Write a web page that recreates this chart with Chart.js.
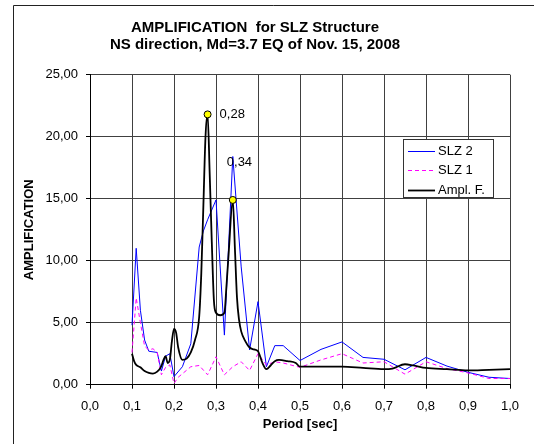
<!DOCTYPE html>
<html>
<head>
<meta charset="utf-8">
<title>Amplification SLZ</title>
<script src="https://cdn.jsdelivr.net/npm/chart.js@4"></script>
<style>
  html, body { margin: 0; padding: 0; background: #fff; }
</style>
</head>
<body>
<canvas id="ampChart" width="534" height="444"></canvas>
<script>
// SLZ 2 (linea blu)
const periodSLZ2 = [0.10, 0.11, 0.12, 0.13, 0.14, 0.16, 0.17, 0.18, 0.19, 0.20, 0.22, 0.24, 0.26, 0.27, 0.28, 0.30, 0.32, 0.34, 0.36, 0.38, 0.40, 0.42, 0.44, 0.46, 0.50, 0.55, 0.60, 0.65, 0.70, 0.75, 0.80, 0.85, 0.90, 0.95, 1.00];
const slz2 = [4.8, 11.0, 6.0, 3.6, 2.7, 2.6, 1.1, 2.3, 2.5, 0.65, 1.45, 3.3, 11.1, 12.4, 13.3, 14.9, 4.0, 18.4, 9.5, 2.8, 6.7, 1.45, 3.15, 3.15, 1.95, 2.85, 3.45, 2.2, 2.05, 1.2, 2.2, 1.5, 1.0, 0.6, 0.5];

// SLZ 1 (tratteggiata magenta)
const periodSLZ1 = [0.10, 0.11, 0.12, 0.13, 0.14, 0.15, 0.16, 0.17, 0.18, 0.19, 0.20, 0.21, 0.24, 0.26, 0.28, 0.30, 0.32, 0.34, 0.36, 0.38, 0.40, 0.42, 0.44, 0.46, 0.50, 0.55, 0.60, 0.65, 0.70, 0.75, 0.80, 0.85, 0.90, 0.95, 1.00];
const slz1 = [2.6, 7.0, 5.0, 3.1, 2.8, 2.9, 2.6, 0.8, 1.4, 1.6, 0.1, 0.6, 1.45, 1.55, 0.8, 2.25, 0.8, 1.45, 1.85, 1.15, 2.5, 1.6, 1.85, 1.75, 1.4, 2.0, 2.5, 1.75, 1.85, 0.85, 1.85, 1.3, 0.95, 0.5, 0.5];

// Funzione di amplificazione (nera)
const periodAmpl = [0.100, 0.105, 0.110, 0.120, 0.130, 0.140, 0.150, 0.160, 0.170, 0.175, 0.180, 0.185, 0.190, 0.195, 0.200, 0.205, 0.210, 0.220, 0.230, 0.240, 0.250, 0.260, 0.265, 0.270, 0.275, 0.280, 0.285, 0.290, 0.295, 0.300, 0.310, 0.320, 0.325, 0.330, 0.340, 0.345, 0.350, 0.355, 0.360, 0.370, 0.380, 0.390, 0.400, 0.410, 0.420, 0.430, 0.440, 0.450, 0.470, 0.490, 0.500, 0.550, 0.600, 0.650, 0.700, 0.720, 0.750, 0.770, 0.800, 0.850, 0.900, 0.950, 1.000];
const amplF = [2.5, 1.9, 1.6, 1.4, 1.1, 0.95, 0.9, 1.05, 1.5, 2.0, 2.3, 1.75, 2.0, 3.5, 4.5, 4.2, 3.0, 2.0, 2.1, 2.6, 3.6, 5.5, 9.0, 14.5, 20.0, 21.8, 17.0, 11.5, 6.8, 5.8, 5.6, 5.8, 8.0, 10.5, 14.9, 11.0, 7.0, 5.2, 4.3, 3.5, 3.0, 2.85, 2.7, 1.8, 1.25, 1.55, 1.9, 2.0, 1.9, 1.75, 1.45, 1.45, 1.45, 1.35, 1.25, 1.3, 1.65, 1.55, 1.35, 1.25, 1.15, 1.2, 1.25];

// picchi evidenziati
const peakPeriods = [0.28, 0.34];
const peakValues = [21.8, 14.9];
const peakLabels = ['0,28', '0,34'];

const FONT = 'Arial, "Liberation Sans", sans-serif';

function toPoints(xs, ys) {
    return xs.map((x, i) => ({ x: x, y: ys[i] }));
}
function comma(v, d) {
    return Number(v).toFixed(d).replace('.', ',');
}

// cornice, legenda ed etichette dei picchi
const decorPlugin = {
    id: 'decor',
    beforeDraw(chart) {
        const c = chart.ctx;
        c.save();
        c.fillStyle = '#fff';
        c.fillRect(0, 0, chart.width, chart.height);
        c.strokeStyle = '#222';
        c.lineWidth = 1;
        c.beginPath();
        c.moveTo(13.5, chart.height);
        c.lineTo(13.5, 5.5);
        c.lineTo(chart.width, 5.5);
        c.stroke();
        c.restore();
    },
    afterDatasetsDraw(chart) {
        const c = chart.ctx;
        c.save();

        // etichette dei picchi
        const meta = chart.getDatasetMeta(3);
        const offs = [[12, 0], [-6, -38]];
        c.font = '13px ' + FONT;
        c.fillStyle = '#000';
        c.textBaseline = 'middle';
        c.textAlign = 'left';
        meta.data.forEach((pt, i) => {
            c.fillText(peakLabels[i], pt.x + offs[i][0], pt.y + offs[i][1]);
        });

        // legenda
        const bx = 403.5, by = 139.5, bw = 90, bh = 58;
        c.fillStyle = '#fff';
        c.fillRect(bx, by, bw, bh);
        c.strokeStyle = '#333';
        c.lineWidth = 1;
        c.strokeRect(bx, by, bw, bh);
        [0, 1, 2].forEach((di, row) => {
            const ds = chart.data.datasets[di];
            const y = Math.round(by + 11 + row * 19.5) + 0.5;
            c.beginPath();
            c.setLineDash(ds.borderDash || []);
            c.strokeStyle = ds.borderColor;
            c.lineWidth = ds.borderWidth;
            c.moveTo(408, y);
            c.lineTo(435, y);
            c.stroke();
            c.setLineDash([]);
            c.fillStyle = '#000';
            c.fillText(ds.label, 438, y);
        });
        c.restore();
    }
};

const ctx = document.getElementById('ampChart').getContext('2d');
const chart = new Chart(ctx, {
    type: 'line',
    data: {
        datasets: [{
            label: 'SLZ 2',
            data: toPoints(periodSLZ2, slz2),
            borderColor: '#0000ff',
            borderWidth: 1,
            pointRadius: 0,
            tension: 0,
            order: 3
        }, {
            label: 'SLZ 1',
            data: toPoints(periodSLZ1, slz1),
            borderColor: '#ff00ff',
            borderWidth: 1,
            borderDash: [4, 3],
            pointRadius: 0,
            tension: 0,
            order: 2
        }, {
            label: 'Ampl. F.',
            data: toPoints(periodAmpl, amplF),
            borderColor: '#000000',
            borderWidth: 1.8,
            pointRadius: 0,
            cubicInterpolationMode: 'monotone',
            order: 1
        }, {
            label: 'picchi',
            data: toPoints(peakPeriods, peakValues),
            showLine: false,
            pointRadius: 3.5,
            pointBackgroundColor: '#ffff00',
            pointBorderColor: '#000',
            pointBorderWidth: 1,
            order: 0
        }]
    },
    options: {
        responsive: false,
        animation: false,
        layout: { padding: { left: 0, right: 24, top: 0, bottom: 0 } },
        plugins: {
            legend: { display: false },
            tooltip: { enabled: false },
            title: {
                display: true,
                text: ['AMPLIFICATION  for SLZ Structure', 'NS direction, Md=3.7 EQ of Nov. 15, 2008'],
                color: '#000',
                font: { family: FONT, size: 15, weight: 'bold', lineHeight: 1.15 },
                padding: { top: 19.4, bottom: 20.8 }
            }
        },
        scales: {
            x: {
                type: 'linear',
                min: 0,
                max: 1,
                afterFit: s => { s.height = 59.3; },
                ticks: {
                    stepSize: 0.1,
                    color: '#000',
                    font: { family: FONT, size: 13 },
                    padding: 10,
                    maxRotation: 0,
                    callback: v => comma(v, 1)
                },
                grid: { color: '#404040', tickLength: 4, tickColor: '#000' },
                border: { color: '#000' },
                title: {
                    display: true,
                    text: 'Period [sec]',
                    color: '#000',
                    font: { family: FONT, size: 13, weight: 'bold' },
                    padding: { top: 0, bottom: 12 }
                }
            },
            y: {
                min: 0,
                max: 25,
                afterFit: s => { s.width = 90; },
                ticks: {
                    stepSize: 5,
                    color: '#000',
                    font: { family: FONT, size: 13 },
                    padding: 8,
                    callback: v => comma(v, 2)
                },
                grid: { color: '#404040', tickLength: 4, tickColor: '#000' },
                border: { color: '#000' },
                title: {
                    display: true,
                    text: 'AMPLIFICATION',
                    color: '#000',
                    font: { family: FONT, size: 13, weight: 'bold' },
                    padding: { top: 22, bottom: 0 }
                }
            }
        }
    },
    plugins: [decorPlugin]
});
</script>
</body>
</html>
